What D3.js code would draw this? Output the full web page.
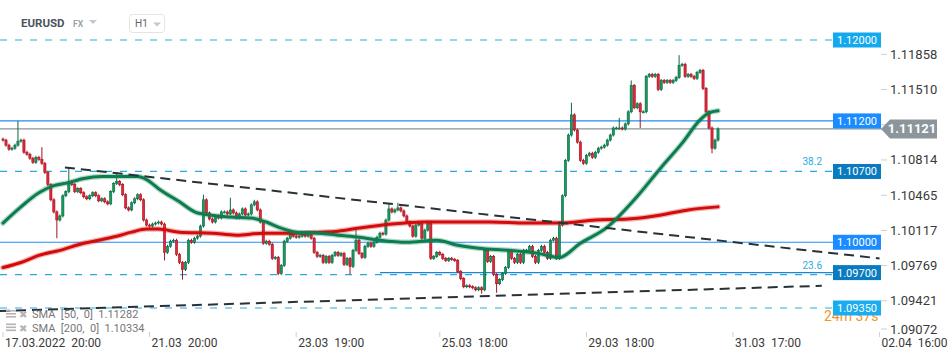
<!DOCTYPE html>
<html><head><meta charset="utf-8">
<script src="https://cdn.jsdelivr.net/npm/d3@7"></script>
<style>body{margin:0;background:#fff;}svg{display:block;font-family:Roboto,"Liberation Sans",Arial,sans-serif;}</style>
</head><body><svg id="c" width="950" height="360"></svg>
<script>
// ---- data (EURUSD H1) ----
const firstOpen = 1.1102;
const closes = [
1.1101,1.1096,1.1092,1.1093,1.1096,1.1100,1.1101,1.1089,1.1087,1.1083,
1.1079,1.1084,1.1082,1.1078,1.1069,1.1057,1.1042,1.1030,1.1022,1.1026,
1.1046,1.1050,1.1060,1.1057,1.1050,1.1053,1.1049,1.1045,1.1043,1.1046,
1.1049,1.1046,1.1041,1.1043,1.1040,1.1038,1.1050,1.1058,1.1060,1.1057,
1.1047,1.1034,1.1032,1.1039,1.1043,1.1047,1.1042,1.1022,1.1017,1.1016,
1.1018,1.1019,1.1020,1.1018,1.0990,1.0996,1.1001,1.1002,1.0988,1.0980,
1.0973,1.0980,1.1002,1.1000,1.1004,1.1006,1.1016,1.1042,1.1029,1.1023,
1.1020,1.1026,1.1024,1.1030,1.1030,1.1028,1.1032,1.1029,1.1024,1.1028,
1.1033,1.1027,1.1028,1.1037,1.1040,1.1032,1.1020,1.0999,1.1001,1.0998,
1.0984,1.0985,1.0969,1.0977,1.1001,1.1004,1.1008,1.1006,1.1005,1.1006,
1.1008,1.1006,1.1009,1.1004,1.0990,1.0986,1.0987,1.0980,1.0986,1.0980,
1.0987,1.0990,1.0987,1.0989,1.0978,1.0984,1.0976,1.0992,1.1002,1.0989,
1.0985,1.0996,1.0999,1.0996,1.1000,1.1005,1.1009,1.1008,1.1022,1.1033,
1.1030,1.1032,1.1034,1.1031,1.1026,1.1020,1.1016,1.1006,1.1017,1.1020,
1.1004,1.1012,1.1020,1.0984,1.0986,1.0990,1.0988,1.0984,1.0982,1.0984,
1.0983,1.0982,1.0971,1.0964,1.0956,1.0957,1.0956,1.0955,1.0953,1.0955,
1.0953,1.0992,1.0981,1.0986,1.0968,1.0959,1.0963,1.0969,1.0975,1.0992,
1.0984,1.0980,1.0988,1.0980,1.0992,1.0992,1.0996,1.0986,1.0980,1.0992,
1.0996,1.0990,1.0984,1.1002,1.1004,1.0984,1.1017,1.1046,1.1081,1.1106,
1.1126,1.1111,1.1099,1.1081,1.1078,1.1086,1.1088,1.1084,1.1089,1.1093,
1.1094,1.1096,1.1101,1.1106,1.1113,1.1113,1.1113,1.1112,1.1117,1.1129,
1.1155,1.1133,1.1137,1.1129,1.1129,1.1164,1.1166,1.1164,1.1166,1.1151,
1.1160,1.1158,1.1160,1.1158,1.1160,1.1163,1.1175,1.1176,1.1164,1.1166,
1.1164,1.1162,1.1168,1.1170,1.1152,1.1129,1.1113,1.1093,1.1101,1.11121];
const highs = {5:1.1120,13:1.1094,22:1.1073,38:1.1069,67:1.1047,76:1.1044,84:1.1042,118:1.1012,129:1.1039,132:1.1039,190:1.1138,206:1.1123,210:1.1160,226:1.1185};
const lows = {18:1.1004,54:1.0982,60:1.0963,116:1.0968,160:1.0949,165:1.0950,213:1.1113,237:1.1088};
const sma50 = [[0,1.1019],[6,1.1035],[12,1.1049],[17,1.1056],[22,1.1059],[27,1.1063],[33,1.1065],[38,1.1065],[45,1.1065],[48,1.1062],[52,1.1053],[59,1.1040],[65,1.1029],[76,1.1025],[83,1.1024],[88,1.1020],[92,1.1015],[98,1.1010],[106,1.1009],[112,1.1007],[119,1.1005],[126,1.1002],[135,1.1000],[145,1.1002],[152,1.0997],[159,1.0994],[169,1.0992],[179,1.0989],[186,1.0985],[193,1.0999],[202,1.1015],[211,1.1042],[220,1.1074],[227,1.1098],[233,1.1121],[236,1.1128],[239,1.1130]];
const sma200 = [[0,1.0975],[6,1.0980],[12,1.0987],[19,1.0992],[27,1.0999],[32,1.1002],[38,1.1006],[43,1.1010],[48,1.1013],[52,1.1013],[59,1.1010],[70,1.1009],[78,1.1007],[87,1.1009],[98,1.1009],[106,1.1010],[112,1.1011],[119,1.1014],[130,1.1018],[141,1.1020],[152,1.1020],[163,1.1020],[175,1.1019],[186,1.1019],[198,1.1022],[209,1.1023],[220,1.1027],[229,1.1032],[239,1.1035]];
const upperTrend = [[20.7,1.1074],[293,1.0984]];
const lowerTrend = [[-1,1.0932],[273.7,1.0957]];
const priceTicks = [1.11858,1.11510,1.11162,1.10814,1.10465,1.10117,1.09769,1.09421,1.09072];
const timeTickIdx = [0,49,98,146,195,244,293];
const timeLabels = ["17.03.2022  20:00","21.03  20:00","23.03  19:00","25.03  18:00","29.03  18:00","31.03  17:00","02.04  16:00"];
const levelPrices = [1.12000,1.11200,1.10700,1.10000,1.09700,1.09350];
const levelNames = ["1.12000","1.11200","1.10700","1.10000","1.09700","1.09350"];
const fibPrices = [1.10700,1.09680];
const fibNames = ["38.2","23.6"];
const currentPrice = 1.11121;
const smaLegend = ["SMA  [50,  0]  1.11282","SMA  [200,  0]  1.10334"];

// ---- drawing ----
const svg = d3.select('#c');
const x = d3.scaleLinear().domain([0, closes.length-1]).range([3, 718]);
const y = d3.scaleLinear().domain([1.0935, 1.12]).range([308, 40]);

const lvStyle = [
  {dash:"7,8", col:"#29abe2", box:"#14a9ee", x1:0},
  {dash:null, col:"#1e8ff0", box:"#1a8cff", x1:0},
  {dash:null, col:null, box:"#0a7bbf", x1:0},
  {dash:null, col:"#1e8ff0", box:"#1a8cff", x1:0},
  {dash:null, col:"#1b86d6", box:"#0a7bbf", x1:380},
  {dash:"7,8", col:"#29abe2", box:"#19adef", x1:0}
];
const gl = svg.append('g');
levelPrices.forEach((p,i)=>{
  const s = lvStyle[i];
  if(!s.col) return;
  gl.append('line').attr('x1',s.x1).attr('x2',833).attr('y1',y(p)).attr('y2',y(p))
    .attr('stroke',s.col).attr('stroke-width',1.2).attr('stroke-dasharray',s.dash);
});
fibPrices.forEach((p,i)=>{
  gl.append('line').attr('x1',0).attr('x2',833).attr('y1',y(p)).attr('y2',y(p))
    .attr('stroke','#29abe2').attr('stroke-width',1.2).attr('stroke-dasharray','7,8');
  gl.append('text').attr('x',822).attr('y',y(p)-6).attr('text-anchor','end')
    .attr('font-size',10).attr('fill','#29abe2').text(fibNames[i]);
});
// current price line
gl.append('line').attr('x1',0).attr('x2',882).attr('y1',y(currentPrice)).attr('y2',y(currentPrice))
  .attr('stroke','#8a949a').attr('stroke-width',1.2);

// candles
const opens = closes.map((c,i)=> i===0 ? firstOpen : closes[i-1]);
const cd = closes.map((c,i)=>({i, o:opens[i], c, h:highs[i], l:lows[i]}));
const gc = svg.append('g');
const up = d => d.c >= d.o;
gc.selectAll('line.w').data(cd).join('line').attr('class','w')
  .attr('x1',d=>x(d.i)).attr('x2',d=>x(d.i))
  .attr('y1',d=> d.h!==undefined ? y(d.h) : y(Math.max(d.o,d.c))-1.5)
  .attr('y2',d=> d.l!==undefined ? y(d.l) : y(Math.min(d.o,d.c))+1.5)
  .attr('stroke',d=> up(d)?'#0c6a43':'#a3141f').attr('stroke-width',1);
gc.selectAll('rect.b').data(cd).join('rect').attr('class','b')
  .attr('x',d=>x(d.i)-1.1).attr('width',2.2)
  .attr('y',d=>y(Math.max(d.o,d.c)))
  .attr('height',d=>Math.max(1, y(Math.min(d.o,d.c))-y(Math.max(d.o,d.c))))
  .attr('fill',d=> up(d)?'#18985f':'#e0283a')
  .attr('stroke',d=> up(d)?'#0c6a43':'#a3141f').attr('stroke-width',0.6);

// SMAs
const line = d3.line().x(d=>x(d[0])).y(d=>y(d[1])).curve(d3.curveMonotoneX);
[[sma200,'#d40b0b'],[sma50,'#0b7d4e']].forEach(([data,col])=>{
  svg.append('path').attr('d',line(data)).attr('fill','none').attr('stroke',col)
    .attr('stroke-width',5.5).attr('stroke-opacity',0.3).attr('stroke-linecap','round');
  svg.append('path').attr('d',line(data)).attr('fill','none').attr('stroke',col)
    .attr('stroke-width',3).attr('stroke-linecap','round');
});

// trend lines
const tl = d3.line().x(d=>x(d[0])).y(d=>y(d[1]));
[upperTrend, lowerTrend].forEach(t=>{
  svg.append('path').attr('d',tl(t)).attr('fill','none').attr('stroke','#263238')
    .attr('stroke-width',2).attr('stroke-dasharray','10,6');
});

// countdown
svg.append('text').attr('x',824).attr('y',321).attr('font-size',14).attr('fill','#f7931e').text('24m 37s');

// level label boxes
levelPrices.forEach((p,i)=>{
  const cy = y(p);
  svg.append('rect').attr('x',833).attr('y',cy-7.5).attr('width',48).attr('height',15).attr('fill',lvStyle[i].box);
  svg.append('text').attr('x',857).attr('y',cy+4).attr('text-anchor','middle')
    .attr('font-size',11).attr('fill','#fff').text(levelNames[i]);
});

// right axis ticks
priceTicks.forEach(v=>{
  const cy = Math.min(y(v), 329);
  svg.append('line').attr('x1',881).attr('x2',887).attr('y1',cy).attr('y2',cy).attr('stroke','#d0d0d0');
  svg.append('text').attr('x',890).attr('y',cy+4.5).attr('font-size',13).attr('fill','#3a3a3a').text(d3.format('.5f')(v));
});
// current price tag
const cpy = y(currentPrice);
svg.append('path').attr('d',`M881,${cpy} L890,${cpy-9.5} L937,${cpy-9.5} L937,${cpy+9.5} L890,${cpy+9.5} Z`).attr('fill','#8b959b');
svg.append('text').attr('x',912).attr('y',cpy+4.5).attr('text-anchor','middle').attr('font-size',13)
  .attr('font-weight','bold').attr('fill','#fff').text(d3.format('.5f')(currentPrice));

// time axis
timeTickIdx.forEach((ti,k)=>{
  const tx = x(ti);
  svg.append('line').attr('x1',tx).attr('x2',tx).attr('y1',332).attr('y2',337).attr('stroke','#cfcfcf');
  svg.append('text').attr('x',tx+2).attr('y',347).attr('font-size',12).attr('fill','#3a3a3a')
    .style('white-space','pre').text(timeLabels[k]);
});

// legend
smaLegend.forEach((t,k)=>{
  const ly = 314 + k*13.5;
  const g = svg.append('g').attr('fill','#b5b5b5');
  g.append('rect').attr('x',6).attr('y',ly-4).attr('width',10).attr('height',1.6);
  g.append('rect').attr('x',6).attr('y',ly-1).attr('width',10).attr('height',1.6);
  g.append('rect').attr('x',6).attr('y',ly+2).attr('width',10).attr('height',1.6);
  svg.append('text').attr('x',19).attr('y',ly+4).attr('font-size',10).attr('fill','#b5b5b5').text('\u2716');
  svg.append('text').attr('x',32).attr('y',ly+4).attr('font-size',11).attr('fill','#777')
    .style('white-space','pre').text(t);
});

// header
svg.append('text').attr('x',21).attr('y',27).attr('font-size',11.5).attr('font-weight','bold').attr('fill','#4a545c').text('EURUSD');
svg.append('text').attr('x',73).attr('y',27).attr('font-size',8.5).attr('font-weight','bold').attr('fill','#9aa4ab').text('FX');
svg.append('path').attr('d','M89,20 L97,20 L93,24 Z').attr('fill','#c4c8cc');
svg.append('rect').attr('x',129.5).attr('y',14.5).attr('width',35).attr('height',18).attr('rx',3)
  .attr('fill','#fff').attr('stroke','#e2e4e6');
svg.append('text').attr('x',135).attr('y',27).attr('font-size',10).attr('fill','#5d666d').text('H1');
svg.append('path').attr('d','M153,22.5 L161,22.5 L157,26.5 Z').attr('fill','#c4c8cc');
</script></body></html>
